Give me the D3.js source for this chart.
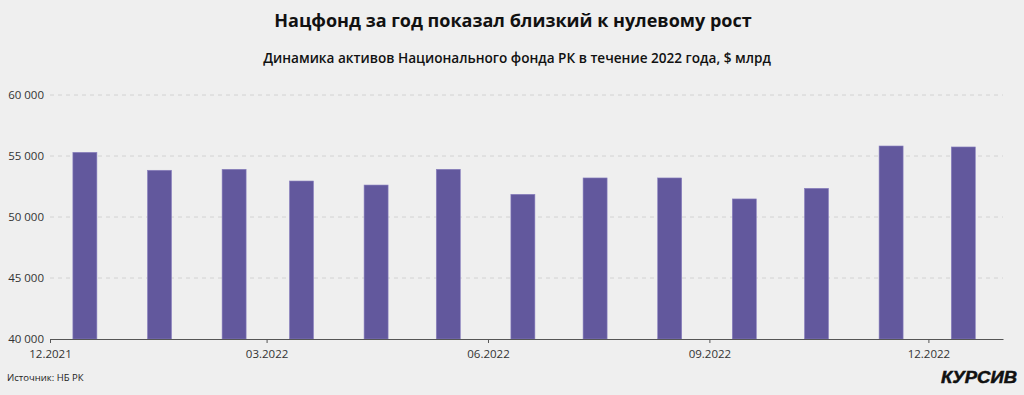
<!DOCTYPE html>
<html lang="ru">
<head>
<meta charset="utf-8">
<title>Нацфонд</title>
<script src="https://cdn.jsdelivr.net/npm/d3@7"></script>
<style>
  body { margin: 0; background: #efefef; }
  svg { display: block; font-family: "Open Sans", "Noto Sans", sans-serif; }
  .tick text { fill: #333; }
</style>
</head>
<body>
<script>
// months (year, monthIndex) and assets, $ mln
var months = [
  [2021, 11], [2022, 0], [2022, 1], [2022, 2], [2022, 3], [2022, 4], [2022, 5],
  [2022, 6], [2022, 7], [2022, 8], [2022, 9], [2022, 10], [2022, 11]
];
var assets = [55300, 53830, 53910, 52950, 52620, 53910, 51860, 53200, 53200, 51480, 52350, 55820, 55740];
var yTicks = [40000, 45000, 50000, 55000, 60000];
var xTicks = [[2021, 11], [2022, 2], [2022, 5], [2022, 8], [2022, 11]];

var W = 1024, H = 395;
var pLeft = 50, pRight = 1003, pTop = 95, pBottom = 339;

var svg = d3.select("body").append("svg").attr("width", W).attr("height", H);
svg.append("rect").attr("width", W).attr("height", H).attr("fill", "#efefef");

var x = d3.scaleTime()
  .domain([new Date(2021, 11, 1), new Date(2023, 0, 1)])
  .range([pLeft, pRight]);
var y = d3.scaleLinear().domain([40000, 60000]).range([pBottom, pTop]);

var fmt = function(d) { return d3.format(",")(d).replace(",", " "); };

// grid
svg.append("g").selectAll("line")
  .data(yTicks.slice(1))
  .enter().append("line")
  .attr("x1", pLeft).attr("x2", pRight)
  .attr("y1", function(d) { return y(d); })
  .attr("y2", function(d) { return y(d); })
  .attr("stroke", "#d2d2d2")
  .attr("stroke-dasharray", "4,4");

// y labels
svg.append("g").selectAll("text")
  .data(yTicks)
  .enter().append("text")
  .attr("x", 44)
  .attr("y", function(d) { return y(d); })
  .attr("dy", "0.35em")
  .attr("text-anchor", "end")
  .attr("font-size", "11.5px")
  .attr("fill", "#333")
  .text(fmt);

// bars
var bw = 24;
svg.append("g").selectAll("rect")
  .data(assets)
  .enter().append("rect")
  .attr("x", function(d, i) { return x(new Date(months[i][0], months[i][1], 15, 12)) - bw / 2; })
  .attr("y", function(d) { return y(d); })
  .attr("width", bw)
  .attr("height", function(d) { return y(40000) - y(d); })
  .attr("fill", "#62589d")
  .attr("stroke", "#8a80bf")
  .attr("stroke-width", 0.6);

// x axis
var xAxis = d3.axisBottom(x)
  .tickValues(xTicks.map(function(m) { return new Date(m[0], m[1], 1); }))
  .tickFormat(d3.timeFormat("%m.%Y"))
  .tickSize(4)
  .tickSizeOuter(0);
var gx = svg.append("g")
  .attr("transform", "translate(0," + pBottom + ")")
  .call(xAxis);
gx.select(".domain").attr("stroke", "#555");
gx.selectAll(".tick line").attr("stroke", "#555");
gx.selectAll(".tick text").attr("font-size", "11.5px").attr("dy", "1.0em")
  .attr("font-family", "'Open Sans', sans-serif");

// titles
svg.append("text")
  .attr("x", 513).attr("y", 27)
  .attr("text-anchor", "middle")
  .attr("font-size", "18px").attr("font-weight", "bold")
  .attr("fill", "#111")
  .text("Нацфонд за год показал близкий к нулевому рост");
svg.append("text")
  .attr("x", 517).attr("y", 63)
  .attr("text-anchor", "middle")
  .attr("font-size", "13.6px").attr("font-weight", 600)
  .attr("fill", "#111")
  .text("Динамика активов Национального фонда РК в течение 2022 года, $ млрд");

// footer
svg.append("text")
  .attr("x", 7).attr("y", 381)
  .attr("font-size", "9.5px")
  .attr("fill", "#222")
  .text("Источник: НБ РК");
svg.append("text")
  .attr("x", 941).attr("y", 383)
  .attr("font-size", "16px").attr("font-weight", 900)
  .attr("font-style", "italic")
  .attr("font-family", "'Liberation Sans', Arial, sans-serif")
  .attr("textLength", 76).attr("lengthAdjust", "spacingAndGlyphs")
  .attr("fill", "#111").attr("stroke", "#111").attr("stroke-width", 0.5)
  .text("КУРСИВ");
</script>
</body>
</html>
